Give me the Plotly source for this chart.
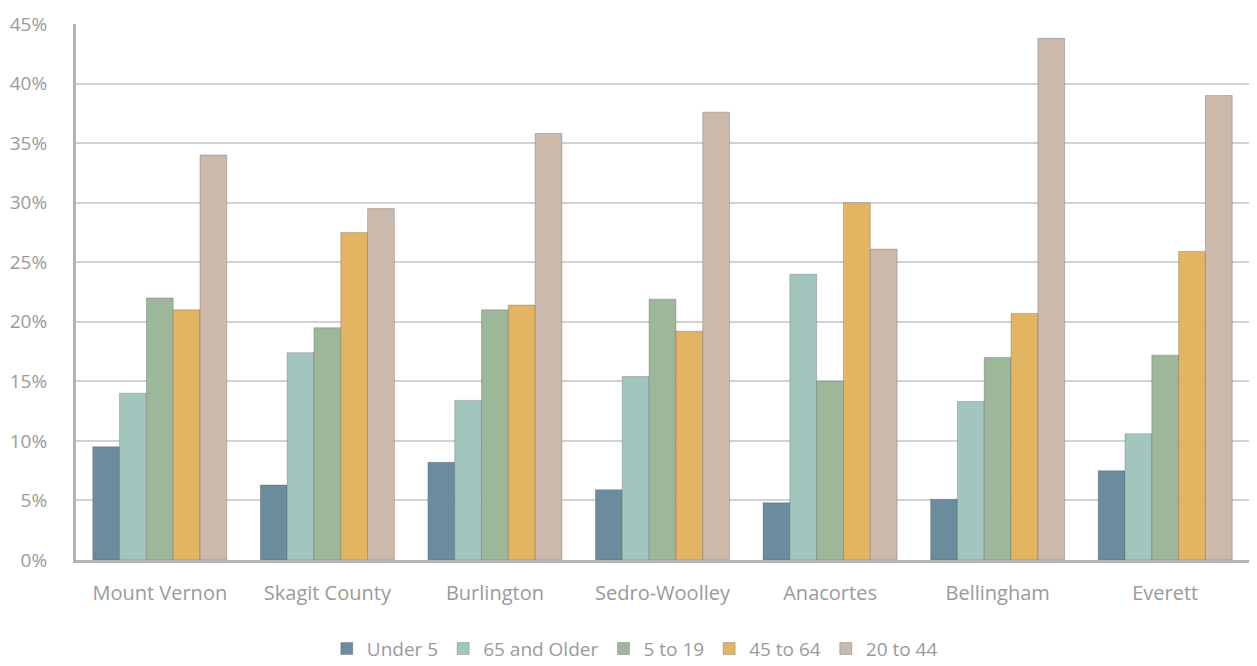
import plotly.graph_objects as go

categories = ["Mount Vernon", "Skagit County", "Burlington", "Sedro-Woolley", "Anacortes", "Bellingham", "Everett"]
under_5 = [9.5, 6.3, 8.2, 5.9, 4.8, 5.1, 7.5]
older_65 = [14.0, 17.4, 13.4, 15.4, 24.0, 13.3, 10.6]
age_5_19 = [22.0, 19.5, 21.0, 21.9, 15.0, 17.0, 17.2]
age_45_64 = [21.0, 27.5, 21.4, 19.2, 30.0, 20.7, 25.9]
age_20_44 = [34.0, 29.5, 35.8, 37.6, 26.1, 43.8, 39.0]

series = [
    ("Under 5", under_5, "#6a8c9d"),
    ("65 and Older", older_65, "#a2c6bd"),
    ("5 to 19", age_5_19, "#9db79b"),
    ("45 to 64", age_45_64, "#e3b462"),
    ("20 to 44", age_20_44, "#cbbaac"),
]

fig = go.Figure()
for name, vals, color in series:
    fig.add_trace(go.Bar(
        name=name, x=categories, y=vals,
        marker=dict(color=color, line=dict(color="rgba(80,80,80,0.3)", width=1)),
    ))

fig.update_layout(
    width=1257, height=666,
    barmode="group", bargap=0.2, bargroupgap=0.0,
    plot_bgcolor="white", paper_bgcolor="white",
    margin=dict(l=76, r=8, t=24, b=106, autoexpand=False),
    font=dict(family="Open Sans", color="#9a9a9a", size=19),
    xaxis=dict(
        showline=True, linecolor="#b5b5b5", linewidth=3,
        tickfont=dict(size=20, color="#9a9a9a"),
        ticks="outside", ticklen=13, tickcolor="rgba(0,0,0,0)",
        showgrid=False,
    ),
    yaxis=dict(
        range=[0, 45], dtick=5, ticksuffix="%",
        showline=True, linecolor="#b5b5b5", linewidth=3,
        showgrid=True, gridcolor="#d2d2d2", gridwidth=2,
        tickfont=dict(size=19, color="#9a9a9a"),
        ticks="outside", ticklen=22, tickcolor="rgba(0,0,0,0)",
        zeroline=False,
    ),
    legend=dict(
        orientation="h", xref="container", x=0.505, xanchor="center",
        yref="container", y=0.026, yanchor="middle",
        font=dict(size=19, color="#9a9a9a"),
        itemwidth=30, traceorder="normal",
    ),
)

fig.write_html("out.html")
